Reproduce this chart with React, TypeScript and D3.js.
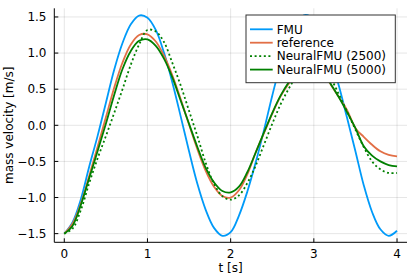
import * as d3 from "d3";

// time samples (s)
const T = d3.range(0, 41).map((i) => i / 10);

// mass velocity, one value per 0.1 s
const FMU = [
  -1.5, -1.34, -1.02, -0.57, -0.15, 0.31, 0.77, 1.14, 1.4, 1.52, 1.49,
  1.32, 1.0, 0.59, 0.12, -0.36, -0.81, -1.17, -1.42, -1.53, -1.48,
  -1.25, -0.92, -0.52, -0.07, 0.41, 0.85, 1.2, 1.44, 1.53, 1.47,
  1.26, 0.93, 0.55, 0.1, -0.36, -0.83, -1.2, -1.44, -1.53, -1.46,
];
const REFERENCE = [
  -1.5, -1.36, -1.08, -0.7, -0.3, 0.11, 0.52, 0.87, 1.12, 1.25, 1.26,
  1.16, 0.96, 0.69, 0.36, 0.01, -0.33, -0.63, -0.85, -0.98, -1.0,
  -0.9, -0.68, -0.38, -0.11, 0.16, 0.4, 0.58, 0.74, 0.85, 0.87,
  0.76, 0.57, 0.39, 0.21, -0.04, -0.16, -0.27, -0.36, -0.41, -0.43,
];
const NEURAL_2500 = [
  -1.5, -1.43, -1.17, -0.8, -0.46, -0.15, 0.17, 0.5, 0.84, 1.12, 1.32,
  1.3, 1.15, 0.86, 0.55, 0.2, -0.15, -0.52, -0.81, -0.98, -1.03,
  -0.97, -0.8, -0.56, -0.27, 0.02, 0.29, 0.51, 0.7, 0.83, 0.89,
  0.83, 0.66, 0.43, 0.19, -0.06, -0.3, -0.5, -0.61, -0.66, -0.66,
];
const NEURAL_5000 = [
  -1.5, -1.39, -1.1, -0.73, -0.36, 0.02, 0.42, 0.78, 1.03, 1.17, 1.19,
  1.1, 0.92, 0.66, 0.34, 0.02, -0.3, -0.59, -0.79, -0.91, -0.93,
  -0.85, -0.65, -0.38, -0.1, 0.17, 0.41, 0.6, 0.75, 0.84, 0.86,
  0.77, 0.58, 0.39, 0.18, -0.04, -0.29, -0.42, -0.5, -0.55, -0.57,
];

const X_TICKS = [0, 1, 2, 3, 4];
const Y_TICKS = [-1.5, -1.0, -0.5, 0.0, 0.5, 1.0, 1.5];

const SERIES = [
  { label: "FMU", values: FMU, color: "#009af9", dash: null },
  { label: "reference", values: REFERENCE, color: "#e26f46", dash: null },
  { label: "NeuralFMU (2500)", values: NEURAL_2500, color: "#008000", dash: "2,2.6" },
  { label: "NeuralFMU (5000)", values: NEURAL_5000, color: "#008000", dash: null },
];

const W = 415;
const H = 277;
const FONT = "DejaVu Sans, sans-serif";

export default function App() {
  const left = 54.3, right = 407, top = 8.3, bottom = 242.3;
  const x = d3.scaleLinear().domain([-0.12, 4.12]).range([left, right]);
  const y = d3.scaleLinear().domain([-1.62, 1.62]).range([bottom, top]);

  const line = d3.line<number>()
    .x((_, i) => x(T[i]))
    .y((d) => y(d))
    .curve(d3.curveCatmullRom);

  const fmtY = (v: number) => v.toFixed(1).replace("-", "\u2212");

  // legend box
  const lg = { x: 246, y: 15, w: 149.3, h: 67.7 };
  const rowY = [29.3, 42.7, 56.1, 69.6];

  return (
    <svg width={W} height={H} style={{ position: "absolute", left: 0, top: 0, background: "#fff" }}
      fontFamily={FONT}>
      {/* grid */}
      {X_TICKS.map((t) => (
        <line key={"gx" + t} x1={x(t)} x2={x(t)} y1={top} y2={bottom} stroke="#000" strokeOpacity={0.1} strokeWidth={1} />
      ))}
      {Y_TICKS.map((v) => (
        <line key={"gy" + v} x1={left} x2={right} y1={y(v)} y2={y(v)} stroke="#000" strokeOpacity={0.1} strokeWidth={1} />
      ))}

      {/* series */}
      {SERIES.map((s) => (
        <path key={s.label} d={line(s.values) || ""} fill="none" stroke={s.color}
          strokeWidth={1.8} strokeDasharray={s.dash || undefined} />
      ))}

      {/* axes */}
      <line x1={left} x2={left} y1={top} y2={bottom} stroke="#000" strokeWidth={1} />
      <line x1={left} x2={right} y1={bottom} y2={bottom} stroke="#000" strokeWidth={1} />
      {X_TICKS.map((t) => (
        <g key={"xt" + t}>
          <line x1={x(t)} x2={x(t)} y1={bottom} y2={bottom - 4} stroke="#000" />
          <text x={x(t)} y={257.5} textAnchor="middle" fontSize={12} fill="#000">{t}</text>
        </g>
      ))}
      {Y_TICKS.map((v) => (
        <g key={"yt" + v}>
          <line x1={left} x2={left + 4} y1={y(v)} y2={y(v)} stroke="#000" />
          <text x={46.5} y={y(v) + 4.3} textAnchor="end" fontSize={12} fill="#000">{fmtY(v)}</text>
        </g>
      ))}

      {/* axis labels */}
      <text x={(left + right) / 2} y={272} textAnchor="middle" fontSize={12} fill="#000">t [s]</text>
      <text transform={`translate(12.5,${(top + bottom) / 2}) rotate(-90)`} textAnchor="middle" fontSize={12} fill="#000">
        mass velocity [m/s]
      </text>

      {/* legend */}
      <rect x={lg.x} y={lg.y} width={lg.w} height={lg.h} fill="#fff" stroke="#333" strokeWidth={1} />
      {SERIES.map((s, i) => (
        <g key={"lg" + s.label}>
          <line x1={250} x2={272.7} y1={rowY[i]} y2={rowY[i]} stroke={s.color} strokeWidth={1.8}
            strokeDasharray={s.dash || undefined} />
          <text x={276.7} y={rowY[i] + 4.3} fontSize={12} fill="#000">{s.label}</text>
        </g>
      ))}
    </svg>
  );
}
